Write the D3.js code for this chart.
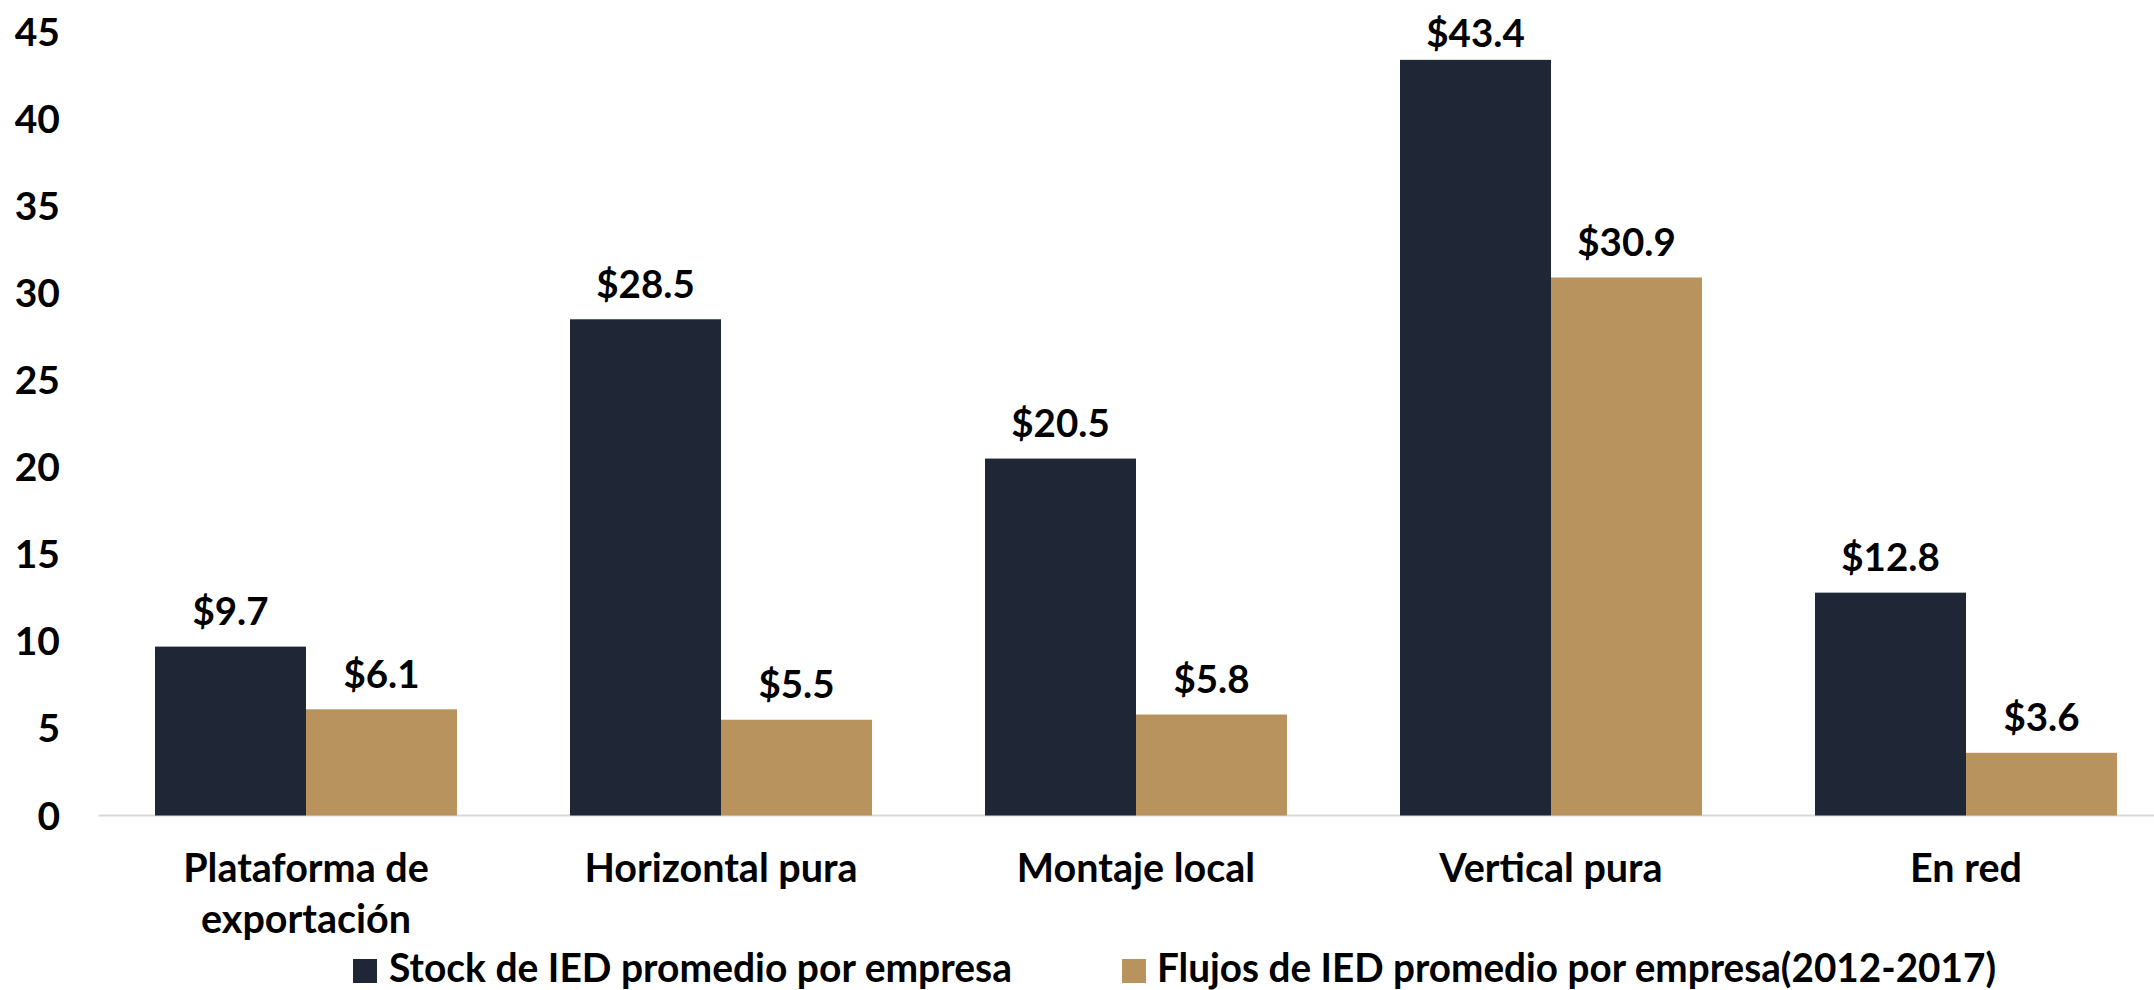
<!DOCTYPE html>
<html>
<head>
<meta charset="utf-8">
<script src="https://cdn.jsdelivr.net/npm/d3@7"></script>
<style>
  html, body { margin: 0; padding: 0; background: #fff; }
  svg { display: block; font-family: Lato, "Open Sans", sans-serif; font-weight: bold; }
</style>
</head>
<body>
<svg id="chart" width="2154" height="990"></svg>
<script>
const categories = [["Plataforma de", "exportación"], ["Horizontal pura"], ["Montaje local"], ["Vertical pura"], ["En red"]];
const stockValues = [9.7, 28.5, 20.5, 43.4, 12.8];
const flujoValues = [6.1, 5.5, 5.8, 30.9, 3.6];
const seriesNames = ["Stock de IED promedio por empresa", "Flujos de IED promedio por empresa(2012-2017)"];
const seriesColors = ["#1F2737", "#B9935D"];
const yTicks = [0, 5, 10, 15, 20, 25, 30, 35, 40, 45];

const svg = d3.select("#chart");
const W = 2154, H = 990;
const x0 = 98.5, x1 = 2173.5;
const yBase = 815.5, yTop = 32;

const catKeys = categories.map((c, i) => i);
const x = d3.scaleBand().domain(catKeys).range([x0, x1]).paddingInner(0.2723).paddingOuter(0.13615);
const xs = d3.scaleBand().domain([0, 1]).range([0, x.bandwidth()]);
const y = d3.scaleLinear().domain([0, 45]).range([yBase, yTop]);

// y tick labels
svg.append("g").selectAll("text").data(yTicks).join("text")
  .attr("x", 60).attr("y", d => y(d)).attr("dy", "0.36em")
  .attr("text-anchor", "end").attr("font-size", 39).attr("fill", "#000")
  .text(d => d);

// axis line
svg.append("line").attr("x1", x0).attr("x2", W).attr("y1", yBase).attr("y2", yBase)
  .attr("stroke", "#D9D9D9").attr("stroke-width", 2);

const series = [stockValues, flujoValues];
series.forEach((vals, s) => {
  const g = svg.append("g");
  g.selectAll("rect").data(vals).join("rect")
    .attr("x", (d, i) => x(i) + xs(s))
    .attr("width", xs.bandwidth())
    .attr("y", d => y(d))
    .attr("height", d => yBase - y(d))
    .attr("fill", seriesColors[s]);
  g.selectAll("text").data(vals).join("text")
    .attr("x", (d, i) => x(i) + xs(s) + xs.bandwidth() / 2)
    .attr("y", d => Math.max(y(d) - 21.5, 46.7))
    .attr("text-anchor", "middle").attr("font-size", 38.5).attr("fill", "#000")
    .text(d => "$" + d.toFixed(1));
});

// category labels
const cl = svg.append("g");
categories.forEach((lines, i) => {
  const t = cl.append("text")
    .attr("x", x(i) + x.bandwidth() / 2).attr("y", 882)
    .attr("text-anchor", "middle").attr("font-size", 39.5).attr("fill", "#000");
  lines.forEach((ln, j) => {
    t.append("tspan").attr("x", x(i) + x.bandwidth() / 2).attr("y", 882 + j * 51).text(ln);
  });
});

// legend
const legend = [
  { mx: 353, tx: 389, tw: 623 },
  { mx: 1122, tx: 1157, tw: 839 }
];
legend.forEach((l, i) => {
  svg.append("rect").attr("x", l.mx).attr("y", 959).attr("width", 24).attr("height", 24)
    .attr("fill", seriesColors[i]);
  svg.append("text").attr("x", l.tx).attr("y", 982)
    .attr("font-size", 40).attr("fill", "#000")
    .attr("textLength", l.tw).attr("lengthAdjust", "spacingAndGlyphs")
    .text(seriesNames[i]);
});
</script>
</body>
</html>
